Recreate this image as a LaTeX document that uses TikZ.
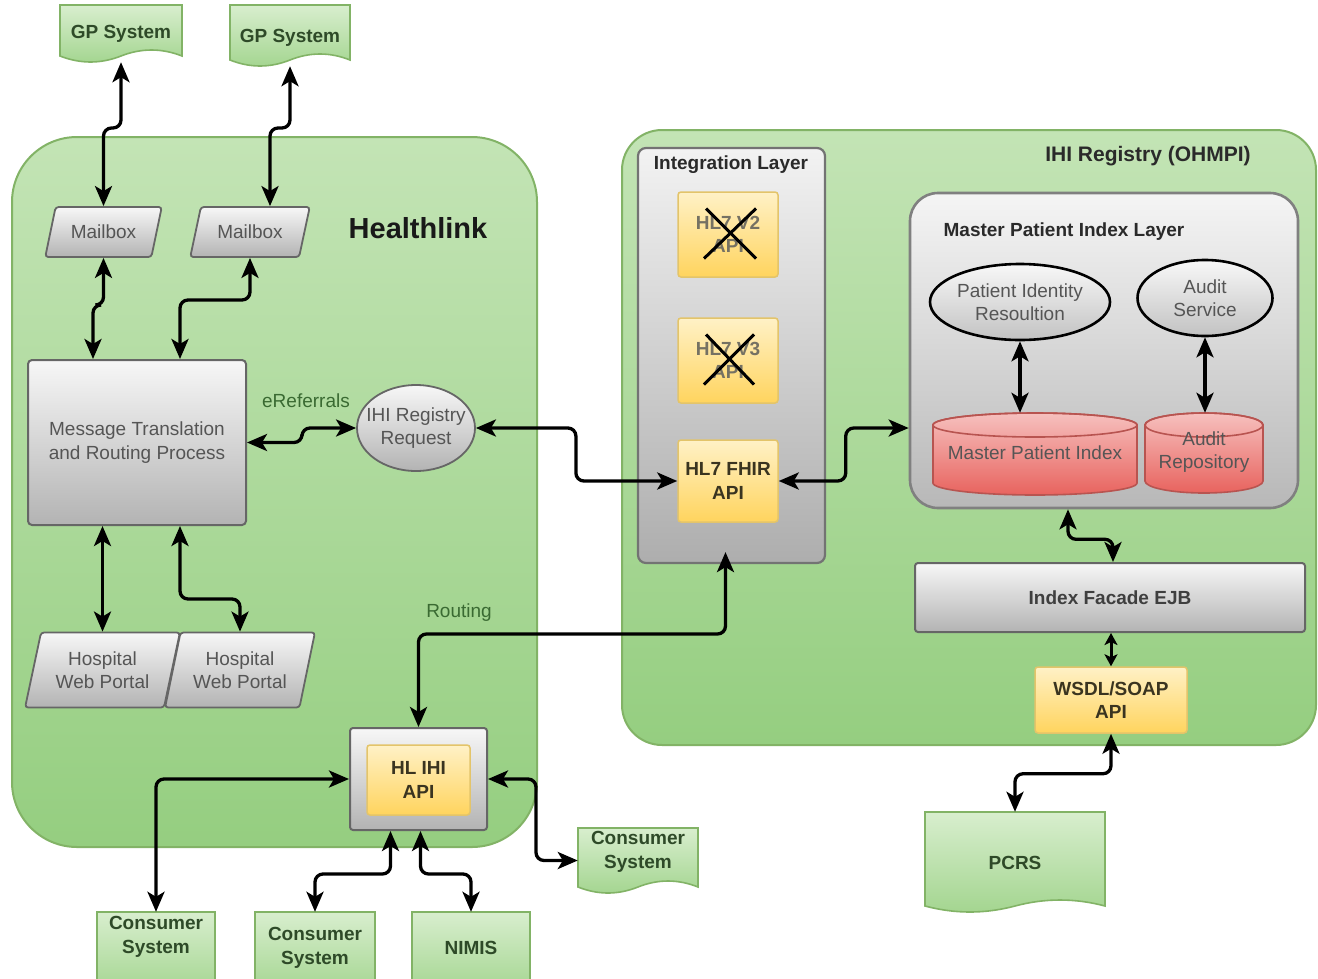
\documentclass[tikz,border=0pt]{standalone}
\usepackage{fontspec}
\setmainfont{Liberation Sans}
\usetikzlibrary{shapes.geometric,arrows.meta,calc}
\definecolor{grnline}{HTML}{82B366}
\definecolor{grntop}{HTML}{C3E4B5}
\definecolor{grnbot}{HTML}{95CE80}
\definecolor{doctop}{HTML}{D8EECE}
\definecolor{docbot}{HTML}{A3D58F}
\definecolor{graytop}{HTML}{F7F7F7}
\definecolor{graybot}{HTML}{B3B3B3}
\definecolor{grayline}{HTML}{666666}
\definecolor{yeltop}{HTML}{FFF1C6}
\definecolor{yelbot}{HTML}{FFD45E}
\definecolor{yelline}{HTML}{E3C46A}
\definecolor{redtop}{HTML}{F6C0BE}
\definecolor{redbot}{HTML}{E8635E}
\definecolor{redline}{HTML}{B85450}
\definecolor{txtgray}{HTML}{555555}
\definecolor{txtgreen}{HTML}{3A6A32}
\definecolor{doctxt}{HTML}{2E4A28}
\definecolor{txtdark}{HTML}{2A2A2A}
\definecolor{yeltxt}{HTML}{3A3420}
\newcommand\myfs{\fontsize{19}{23.5}\selectfont}
\newcommand\docnode[7]{%
  \pgfmathsetmacro\dqw{#4-#2}%
  \pgfmathsetmacro\dqm{(#2+#4)/2}%
  \pgfmathsetmacro\dqb{#5-6}%
  \pgfmathsetmacro\dqu{#5-14}%
  \pgfmathsetmacro\dqd{#5+2}%
  \pgfmathsetmacro\dqca{#4-\dqw/6}%
  \pgfmathsetmacro\dqcb{\dqm+\dqw/6}%
  \pgfmathsetmacro\dqcc{\dqm-\dqw/6}%
  \pgfmathsetmacro\dqcd{#2+\dqw/6}%
  \path[docshape] (#2,#3) -- (#4,#3) -- (#4,\dqb) .. controls (\dqca,\dqu) and (\dqcb,\dqu) .. (\dqm,\dqb) .. controls (\dqcc,\dqd) and (\dqcd,\dqd) .. (#2,\dqb) -- cycle;
  \pgfmathsetmacro\dqy{(#3+#5)/2}%
  \pgfmathsetmacro\dqh{#5-#3}%
  \node[inner sep=0pt, minimum width=\dqw, minimum height=\dqh] (#1) at (\dqm,\dqy) {};
  \node[doctext] (#1t) at (\dqm,#6) {#7};
}
\newcommand\cylnode[7]{%
  \pgfmathsetmacro\cqr{(#4-#2)/2}%
  \pgfmathsetmacro\cqa{#3+12}%
  \pgfmathsetmacro\cqb{#5-12}%
  \pgfmathsetmacro\cqm{(#2+#4)/2}%
  \path[cylshape] (#2,\cqa) -- (#2,\cqb) arc[start angle=180,end angle=0,x radius=\cqr,y radius=12] -- (#4,\cqa) arc[start angle=0,end angle=-180,x radius=\cqr,y radius=12] -- cycle;
  \draw[cylline] (\cqm,\cqa) ellipse [x radius=\cqr, y radius=12];
  \pgfmathsetmacro\cqh{#5-#3}%
  \pgfmathsetmacro\cqw{#4-#2}%
  \pgfmathsetmacro\cqy{(#3+#5)/2}%
  \node[inner sep=0pt, minimum width=\cqw, minimum height=\cqh] (#1) at (\cqm,\cqy) {};
  \node[cyltext] (#1t) at (\cqm,#6) {#7};
}
\begin{document}
\begin{tikzpicture}[x=1pt,y=-1pt,
  region/.style={draw=grnline, line width=2pt, top color=grntop, bottom color=grnbot, inner sep=0pt},
  docshape/.style={draw=grnline, line width=1.6pt, top color=doctop, bottom color=docbot},
  doctext/.style={font=\myfs\bfseries, text=doctxt, align=center, inner sep=0pt},
  cylshape/.style={draw=redline, line width=1.6pt, top color=redtop, bottom color=redbot},
  cylline/.style={draw=redline, line width=1.6pt},
  cyltext/.style={font=\myfs, text=txtgray, align=center, inner sep=0pt},
  graybox/.style={draw=grayline, line width=2pt, top color=graytop, bottom color=graybot, rounded corners=4pt, inner sep=0pt, font=\myfs, text=txtgray, align=center},
  yelbox/.style={draw=yelline, line width=1.5pt, top color=yeltop, bottom color=yelbot, rounded corners=3pt, inner sep=0pt, font=\myfs\bfseries, text=yeltxt, align=center},
  para/.style={trapezium, trapezium stretches=true, draw=grayline, line width=1.8pt, top color=graytop, bottom color=graybot, rounded corners=3pt, inner sep=0pt, font=\myfs, text=txtgray, align=center},
  oval/.style={ellipse, draw=grayline, line width=1.8pt, top color=graytop, bottom color=graybot, inner sep=0pt, font=\myfs, text=txtgray, align=center},
  blkoval/.style={ellipse, draw=black, line width=2.6pt, top color=graytop!90!white, bottom color=graybot!80!white, inner sep=0pt, font=\myfs, text=txtgray, align=center},
  title/.style={font=\myfs\bfseries, text=txtdark, inner sep=0pt},
  lbl/.style={font=\myfs, text=txtgreen, inner sep=0pt},
  conn/.style={line width=3.3pt, {Stealth[length=20pt,width=17pt,inset=5pt]}-{Stealth[length=20pt,width=17pt,inset=5pt]}, rounded corners=8pt},
  shortconn/.style={line width=3pt, {Stealth[length=12pt,width=13pt,inset=3pt]}-{Stealth[length=12pt,width=13pt,inset=3pt]}},
  xmark/.style={line width=3pt, black}
]
\useasboundingbox (0,0) rectangle (1318,978);

% regions
\node[region, rounded corners=65pt, minimum width=525, minimum height=710] (hl) at (274.5,492) {};
\node[region, rounded corners=40pt, minimum width=694, minimum height=615] (ihi) at (969,437.5) {};
\node[font=\fontsize{29}{32}\selectfont\bfseries, text=black!90, inner sep=0pt] (hltitle) at (418,228) {Healthlink};
\node[title, font=\fontsize{21}{24}\selectfont\bfseries] (ihititle) at (1148,156) {IHI Registry (OHMPI)};

% integration layer
\node[graybox, draw=black!55, line width=2.2pt, rounded corners=8pt, top color=black!5, bottom color=black!32, minimum width=187, minimum height=415] (IL) at (731.5,355.5) {};
\node[title] (iltitle) at (731,165) {Integration Layer};
\node[yelbox, minimum width=100, minimum height=85, text=yeltxt!70] (v2) at (728,234.5) {HL7 V2\\API};
\node[yelbox, minimum width=100, minimum height=85, text=yeltxt!70] (v3) at (728,360.5) {HL7 V3\\API};
\node[yelbox, minimum width=100, minimum height=82] (fhir) at (728,481) {HL7 FHIR\\API};
\draw[xmark] ($(v2.center)+(-24,24)$) -- ($(v2.center)+(28,-26)$);
\draw[xmark] ($(v2.center)+(-22,-26)$) -- ($(v2.center)+(28,24)$);
\draw[xmark] ($(v3.center)+(-24,24)$) -- ($(v3.center)+(26,-26)$);
\draw[xmark] ($(v3.center)+(-22,-26)$) -- ($(v3.center)+(26,24)$);

% MPI layer
\node[graybox, draw=black!50, line width=2.6pt, rounded corners=28pt, top color=black!4, bottom color=black!28, minimum width=388, minimum height=315] (mpil) at (1104,350.5) {};
\node[title] (mpiltitle) at (1064,232) {Master Patient Index Layer};
\node[blkoval, minimum width=180, minimum height=76] (pir) at (1020,302) {\makebox[80pt]{Patient Identity}\\\makebox[80pt]{Resoultion}};
\node[blkoval, minimum width=135, minimum height=76] (aus) at (1205,298) {Audit\\Service};
\cylnode{mpi}{933}{413}{1137}{495}{453}{Master Patient Index}
\cylnode{arep}{1145}{413}{1263}{493}{452}{Audit\\Repository}

\node[graybox, font=\myfs\bfseries, text=txtdark!90, minimum width=390, minimum height=69, rounded corners=3pt] (ejb) at (1110,597.5) {Index Facade EJB};
\node[yelbox, minimum width=152, minimum height=66] (wsdl) at (1111,700) {WSDL/SOAP\\API};

% Healthlink internals
\node[para, trapezium left angle=63, trapezium right angle=117, minimum width=117, minimum height=50] (mb1) at (103.5,232) {Mailbox};
\node[para, trapezium left angle=63, trapezium right angle=117, minimum width=120, minimum height=50] (mb2) at (250,232) {Mailbox};
\node[graybox, minimum width=218, minimum height=165] (mtrp) at (137,442.5) {Message Translation\\and Routing Process};
\node[oval, minimum width=118, minimum height=86] (irr) at (416,428) {\makebox[60pt]{IHI Registry}\\\makebox[60pt]{Request}};
\node[lbl] (eref) at (306,401) {eReferrals};
\node[para, trapezium left angle=72, trapezium right angle=108, minimum width=155, minimum height=75] (hwp1) at (102.5,670) {Hospital\\Web Portal};
\node[para, trapezium left angle=72, trapezium right angle=108, minimum width=150, minimum height=75] (hwp2) at (240,670) {Hospital\\Web Portal};
\node[lbl] (rout) at (459,613) {Routing};
\node[graybox, minimum width=137, minimum height=102, rounded corners=3pt] (hlihi) at (418.5,779) {};
\node[yelbox, minimum width=103, minimum height=70] (hlapi) at (418.5,780) {HL IHI\\API};

% documents
\docnode{gp1}{60}{5}{182}{62}{34}{GP System}
\docnode{gp2}{230}{5}{350}{66}{38}{GP System}
\docnode{cs1}{97}{912}{215}{992}{937}{Consumer\\System}
\docnode{cs2}{255}{912}{375}{992}{948}{Consumer\\System}
\docnode{nimis}{412}{912}{530}{992}{948}{NIMIS}
\docnode{csr}{578}{828}{698}{893}{852}{Consumer\\System}
\docnode{pcrs}{925}{812}{1105}{912}{863}{PCRS}

% connectors
\draw[conn] (gp1.south) -- (gp1.south |- 0,128) -| (mb1.north);
\draw[conn] (gp2.south) -- (gp2.south |- 0,128) -| ([xshift=20pt]mb2.north);
\draw[conn] (mb1.south) -- (mb1.south |- 0,305) -| ([xshift=-44pt]mtrp.north);
\draw[conn] (mb2.south) -- (mb2.south |- 0,300) -| ([xshift=43pt]mtrp.north);
\draw[conn] (mtrp.east) -- ($(mtrp.east)+(55,0)$) |- (irr.west);
\draw[conn] (irr.east) -- ($(irr.east)+(100,0)$) |- (fhir.west);
\draw[conn] (fhir.east) -- ($(fhir.east)+(67,0)$) |- ([yshift=-77.5pt]mpil.west);
\draw[conn] (hwp1.north) -- (hwp1.north |- mtrp.south);
\draw[conn] ([xshift=43pt]mtrp.south) -- ($(mtrp.south)+(43,73)$) -| (hwp2.north);
\draw[conn] (hlihi.north) -- ($(hlihi.north)+(0,-93)$) -| ([xshift=-6pt,yshift=12pt]IL.south);
\draw[conn] (hlihi.west) -| (cs1.north);
\draw[conn] ([xshift=-28pt]hlihi.south) -- ($(hlihi.south)+(-28,43)$) -| (cs2.north);
\draw[conn] ([xshift=2pt]hlihi.south) -- ($(hlihi.south)+(2,43)$) -| (nimis.north);
\draw[conn] (hlihi.east) -- ($(hlihi.east)+(48,0)$) |- (csr.west);
\draw[conn] (pir.south) -- (pir.south |- mpi.north);
\draw[conn] (aus.south) -- (aus.south |- arep.north);
\draw[conn] ([xshift=-36pt]mpil.south) -- ($(mpil.south)+(-36,30)$) -| ([xshift=3pt]ejb.north);
\draw[shortconn] (wsdl.north) -- (wsdl.north |- ejb.south);
\draw[conn] (wsdl.south) -- ($(wsdl.south)+(0,40)$) -| (pcrs.north);
\end{tikzpicture}
\end{document}
